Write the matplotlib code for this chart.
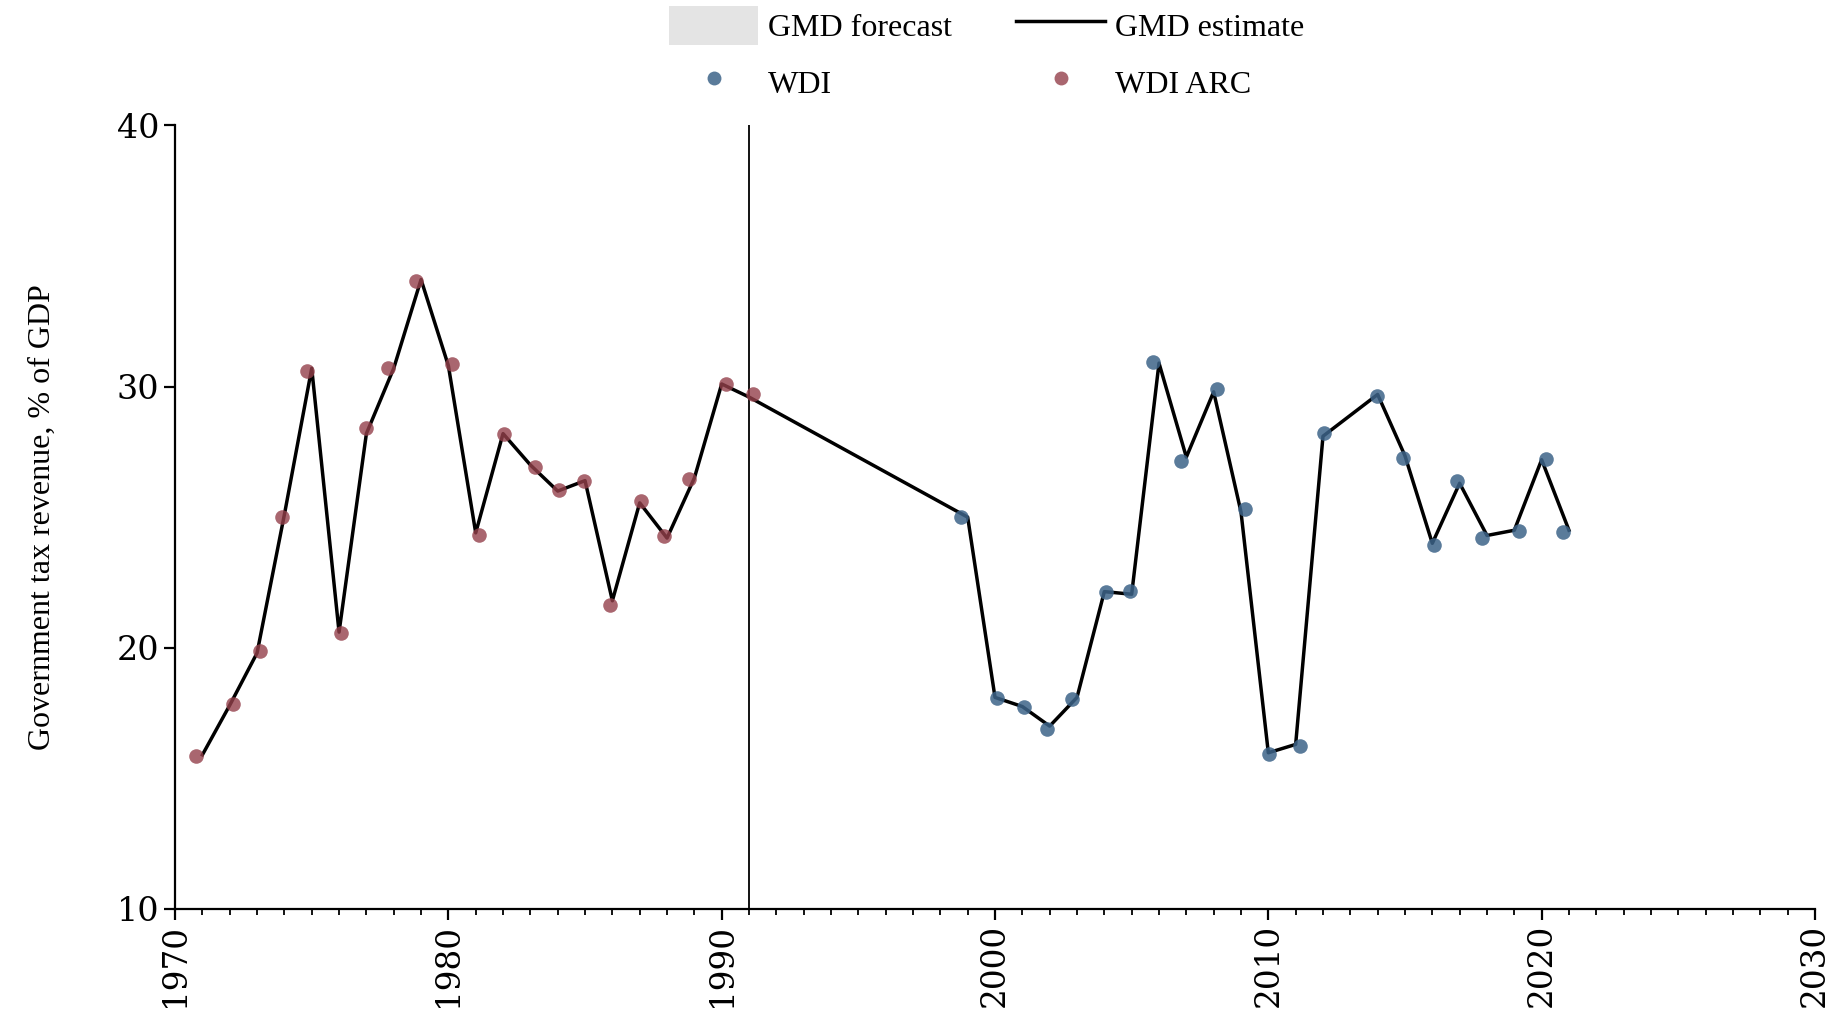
import matplotlib
matplotlib.use("Agg")
import matplotlib.pyplot as plt
from matplotlib.patches import Patch
from matplotlib.lines import Line2D
import numpy as np

# GMD estimate (line), one value per year
est_years = [1971, 1972, 1973, 1974, 1975, 1976, 1977, 1978, 1979, 1980,
             1981, 1982, 1983, 1984, 1985, 1986, 1987, 1988, 1989, 1990, 1991,
             1999, 2000, 2001, 2002, 2003, 2004, 2005, 2006, 2007, 2008,
             2009, 2010, 2011, 2012, 2014, 2015, 2016, 2017, 2018, 2019,
             2020, 2021]
est_vals = [15.9, 17.8, 19.8, 25.1, 30.7, 20.6, 28.2, 30.7, 34.1, 30.8,
            24.4, 28.2, 27.0, 26.0, 26.4, 21.8, 25.55, 24.2, 26.5, 30.1, 29.6,
            25.0, 18.1, 17.75, 17.0, 18.1, 22.15, 22.05, 30.9, 27.3, 29.8,
            25.2, 15.98, 16.3, 28.1, 29.7, 27.35, 24.0, 26.3, 24.3, 24.5,
            27.2, 24.5]

# WDI ARC points (x jittered around the year as in the source)
arc_x = [1970.77, 1972.11, 1973.09, 1973.93, 1974.83, 1976.06, 1976.97,
         1977.78, 1978.81, 1980.14, 1981.13, 1982.03, 1983.17, 1984.03,
         1984.98, 1985.92, 1987.05, 1987.89, 1988.81, 1990.17, 1991.15]
arc_vals = [15.87, 17.84, 19.87, 24.99, 30.58, 20.56, 28.42, 30.71, 34.06,
            30.86, 24.32, 28.19, 26.93, 26.03, 26.39, 21.62, 25.62, 24.28,
            26.48, 30.09, 29.72]

# WDI points
wdi_x = [1998.75, 2000.09, 2001.07, 2001.92, 2002.81, 2004.06, 2004.94,
         2005.79, 2006.82, 2008.13, 2009.14, 2010.01, 2011.17, 2012.04,
         2013.98, 2014.92, 2016.05, 2016.92, 2017.83, 2019.16, 2020.15,
         2020.77]
wdi_vals = [25.02, 18.07, 17.72, 16.89, 18.03, 22.15, 22.17, 30.94, 27.16,
            29.9, 25.31, 15.93, 16.23, 28.21, 29.64, 27.25, 23.94, 26.4,
            24.19, 24.47, 27.23, 24.42]

vline_year = 1991
xticks = [1970, 1980, 1990, 2000, 2010, 2020, 2030]
yticks = [10, 20, 30, 40]

red = "#94404b"
blue = "#3d6489"

fig = plt.figure(figsize=(18.37, 10.14), dpi=100)
ax = fig.add_axes([0.0953, 0.1036, 0.8927, 0.7727])

ax.axvline(vline_year, color="black", lw=1.3, zorder=1)
ax.plot(est_years, est_vals, color="black", lw=2.5, zorder=2)
ax.scatter(arc_x, arc_vals, s=110, color=red, alpha=0.8, lw=0, zorder=3)
ax.scatter(wdi_x, wdi_vals, s=110, color=blue, alpha=0.85, lw=0, zorder=3)

ax.set_xlim(1970, 2030)
ax.set_ylim(10, 40)
ax.set_xticks(xticks)
ax.set_xticks(np.arange(1970, 2031, 1), minor=True)
ax.set_yticks(yticks)
ax.spines["top"].set_visible(False)
ax.spines["right"].set_visible(False)
for s in ["left", "bottom"]:
    ax.spines[s].set_linewidth(1.6)
ax.tick_params(axis="y", which="major", length=8, width=1.6, labelsize=24)
ax.tick_params(axis="x", which="major", length=8, width=1.6, labelsize=23.5,
               pad=3)
ax.tick_params(axis="x", which="minor", length=4, width=1.3)
for lab in ax.get_xticklabels() + ax.get_yticklabels():
    lab.set_fontfamily("DejaVu Serif")
for lab in ax.get_xticklabels():
    lab.set_rotation(90)

ax.set_ylabel("Government tax revenue, % of GDP", family="Liberation Serif",
              fontsize=23, labelpad=43)

# legend filled column-wise, so order gives rows: forecast/estimate, WDI/WDI ARC
handles = [Patch(facecolor="#e4e4e4", edgecolor="none"),
           Line2D([], [], ls="none", marker="o", ms=10, color=blue,
                  alpha=0.85, mew=0),
           Line2D([], [], color="black", lw=2.5),
           Line2D([], [], ls="none", marker="o", ms=10, color=red,
                  alpha=0.8, mew=0)]
labels = ["GMD forecast", "WDI", "GMD estimate", "WDI ARC"]
fig.legend(handles, labels, loc="upper center", bbox_to_anchor=(0.537, 1.022),
           ncol=2, frameon=False, prop={"family": "Liberation Serif", "size": 23},
           handlelength=2.8, handleheight=1.5, columnspacing=2.0,
           handletextpad=0.3, labelspacing=0.55)

fig.savefig("out.png", dpi=100)
